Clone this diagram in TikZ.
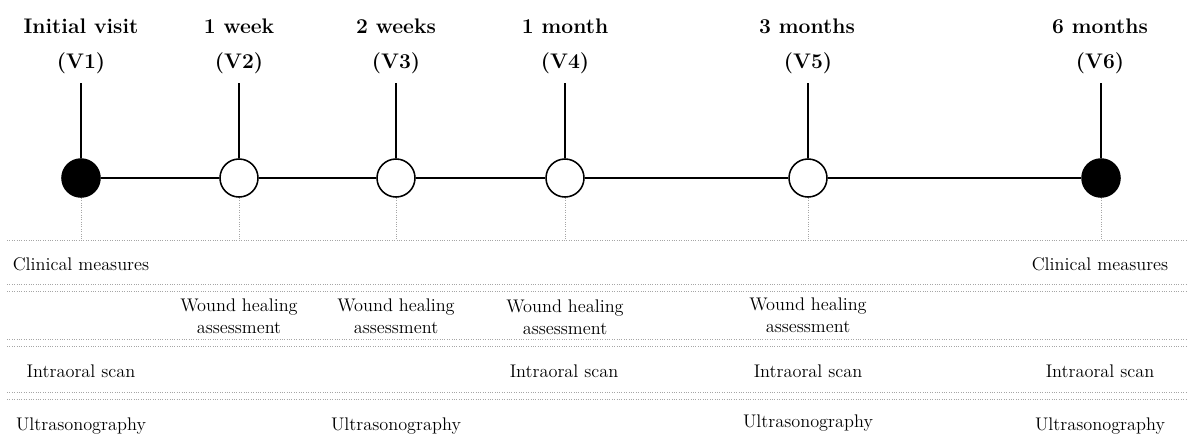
\documentclass[tikz,border=0pt]{standalone}
\usetikzlibrary{positioning}
\begin{document}
\begin{tikzpicture}[x=0.025cm, y=-0.025cm,
    visit/.style={circle, draw=black, line width=1.1pt, minimum size=0.95cm, inner sep=0pt},
    keyvisit/.style={visit, fill=black},
    midvisit/.style={visit, fill=white},
    title/.style={anchor=base, font=\bfseries\fontsize{15}{18}\selectfont},
    task/.style={anchor=base, align=center, font=\fontsize{13}{15}\selectfont},
    stem/.style={line width=1.1pt},
    rule/.style={gray!70, line width=0.6pt, dash pattern=on 0.6pt off 1.1pt}
]
\useasboundingbox (0,0) rectangle (1188,442);

% Row separators
\draw[rule] (7,240) -- (1188,240);
\draw[rule] (7,284) -- (1188,284);
\draw[rule] (7,291) -- (1188,291);
\draw[rule] (7,339) -- (1188,339);
\draw[rule] (7,346) -- (1188,346);
\draw[rule] (7,392) -- (1188,392);
\draw[rule] (7,399) -- (1188,399);

% Visit headers
\node[title] (t1) at (81,33) {Initial visit};
\node[title] (t2) at (239,33) {1 week};
\node[title] (t3) at (396,33) {2 weeks};
\node[title] (t4) at (565,33) {1 month};
\node[title] (t5) at (807,33) {3 months};
\node[title] (t6) at (1100,33) {6 months};

\node[title] (n1) at (81,68) {(V1)};
\node[title] (n2) at (239,68) {(V2)};
\node[title] (n3) at (396,68) {(V3)};
\node[title] (n4) at (565,68) {(V4)};
\node[title] (n5) at (808,68) {(V5)};
\node[title] (n6) at (1100,68) {(V6)};

% Timeline
\coordinate (s1) at (81,83);
\coordinate (s2) at (239,83);
\coordinate (s3) at (396,83);
\coordinate (s4) at (565,83);
\coordinate (s5) at (808,83);
\coordinate (s6) at (1101,83);

\node[keyvisit] (v1) at (81,178) {};
\node[midvisit] (v2) at (239,178) {};
\node[midvisit] (v3) at (396,178) {};
\node[midvisit] (v4) at (565,178) {};
\node[midvisit] (v5) at (808,178) {};
\node[keyvisit] (v6) at (1101,178) {};

\draw[stem] (v1) -- (v2) -- (v3) -- (v4) -- (v5) -- (v6);

\draw[stem] (s1) -- (v1);
\draw[stem] (s2) -- (v2);
\draw[stem] (s3) -- (v3);
\draw[stem] (s4) -- (v4);
\draw[stem] (s5) -- (v5);
\draw[stem] (s6) -- (v6);

% Drop lines to the table
\coordinate (d1) at (81,240);
\coordinate (d2) at (239,240);
\coordinate (d3) at (396,240);
\coordinate (d4) at (565,240);
\coordinate (d5) at (808,240);
\coordinate (d6) at (1101,240);

\draw[rule] (v1) -- (d1);
\draw[rule] (v2) -- (d2);
\draw[rule] (v3) -- (d3);
\draw[rule] (v4) -- (d4);
\draw[rule] (v5) -- (d5);
\draw[rule] (v6) -- (d6);

% Clinical measures
\node[task] (cm1) at (81,270) {Clinical measures};
\node[task] (cm6) at (1100,270) {Clinical measures};

% Wound healing (base = last line)
\node[task] (wh2) at (239,333) {Wound healing\\assessment};
\node[task] (wh3) at (396,333) {Wound healing\\assessment};
\node[task] (wh4) at (565,334) {Wound healing\\assessment};
\node[task] (wh5) at (808,332) {Wound healing\\assessment};

% Intraoral scan
\node[task] (is1) at (81,377) {Intraoral scan};
\node[task] (is4) at (564,377) {Intraoral scan};
\node[task] (is5) at (808,377) {Intraoral scan};
\node[task] (is6) at (1100,377) {Intraoral scan};

% Ultrasonography
\node[task] (us1) at (81,430) {Ultrasonography};
\node[task] (us3) at (396,430) {Ultrasonography};
\node[task] (us5) at (808,427) {Ultrasonography};
\node[task] (us6) at (1100,430) {Ultrasonography};

\end{tikzpicture}
\end{document}
